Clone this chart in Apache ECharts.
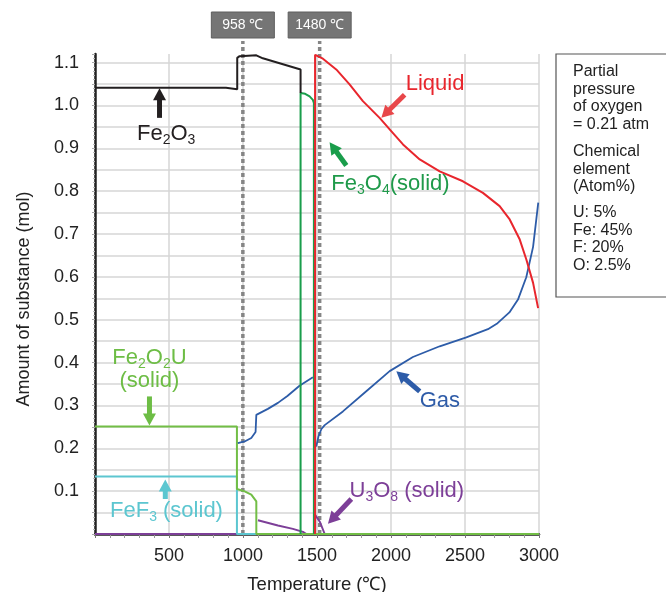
<!DOCTYPE html>
<html>
<head>
<meta charset="utf-8">
<title>Amount of substance vs temperature</title>
<script src="https://cdn.jsdelivr.net/npm/echarts@6/dist/echarts.min.js"></script>
<style>
  html, body { margin: 0; padding: 0; background: #fff; }
  #chart { width: 666px; height: 592px; }
</style>
</head>
<body>
<div id="chart"></div>
<script>
// values: [temperature (℃), amount (mol)], null breaks a line
var fe2o3 = [[0, 1.041], [885, 1.041], [887, 1.038], [961, 1.038], [961, 1.111], [977, 1.115],
  [1090, 1.117], [1134, 1.110], [1389, 1.084], [1389, 1.029]];
var fe3o4 = [[1389, 0], [1389, 1.029], [1420, 1.027], [1450, 1.021], [1472, 1.013], [1479, 1.006], [1479, 0]];
var liquid = [[1487, 0], [1487, 1.118], [1540, 1.109], [1630, 1.084], [1720, 1.049], [1810, 1.010],
  [1923, 0.971], [1991, 0.944], [2081, 0.909], [2194, 0.874], [2329, 0.846], [2486, 0.823],
  [2621, 0.796], [2734, 0.765], [2802, 0.734], [2870, 0.687], [2915, 0.640], [2960, 0.586], [2994, 0.527]];
var gas = [[965, 0.212], [1011, 0.216], [1056, 0.224], [1085, 0.238], [1090, 0.278], [1168, 0.292],
  [1236, 0.306], [1300, 0.322], [1382, 0.346], [1472, 0.366], null,
  [1495, 0.204], [1510, 0.228], [1530, 0.245], [1552, 0.254], [1675, 0.286], [1833, 0.333],
  [1991, 0.380], [2148, 0.413], [2329, 0.438], [2509, 0.459], [2655, 0.478], [2720, 0.492],
  [2800, 0.517], [2858, 0.547], [2914, 0.599], [2960, 0.670], [2995, 0.773]];
var fe2o2u = [[0, 0.251], [959, 0.251], [959, 0.105], [1011, 0.0995], [1056, 0.092], [1090, 0.076],
  [1090, 0], [3000, 0]];
var fef3 = [[0, 0.134], [959, 0.134], [959, 0], [1090, 0]];
var u3o8 = [[0, 0], [959, 0], null,
  [1101, 0.032], [1236, 0.020], [1337, 0.012], [1405, 0.005], [1428, 0], null,
  [1487, 0], [1487, 0.045], [1520, 0.028], [1552, 0]];

// dotted markers: label text and where the picture draws them on the axis
var markerText = ['958 ℃', '1480 ℃'];
var markerAt = [999, 1518];

var conditions = [
  ['Partial', 'pressure', 'of oxygen', '= 0.21 atm'],
  ['Chemical', 'element', '(Atom%)'],
  ['U: 5%', 'Fe: 45%', 'F: 20%', 'O: 2.5%']
];

var FONT = '"Liberation Sans", Arial, sans-serif';
var chart = echarts.init(document.getElementById('chart'));

function lineSeries(name, data, color, width, z) {
  return {
    name: name, type: 'line', data: data, symbol: 'none', connectNulls: false,
    lineStyle: { color: color, width: width }, z: z
  };
}

var option = {
  animation: false,
  textStyle: { fontFamily: FONT },
  grid: { left: 95, right: 127, top: 54, bottom: 58, outerBoundsMode: 'none' },
  xAxis: {
    type: 'value', min: 0, max: 3000, interval: 500,
    name: 'Temperature (℃)', nameLocation: 'middle', nameGap: 41,
    nameTextStyle: { fontSize: 18.5, color: '#222' },
    axisLine: { lineStyle: { color: '#222', width: 2.5 } },
    axisTick: { length: 4, lineStyle: { color: '#777' } },
    minorTick: { show: true, splitNumber: 5, length: 4, lineStyle: { color: '#999' } },
    axisLabel: { fontSize: 18, color: '#222', margin: 13, showMinLabel: false,
      formatter: function (v) { return String(v); } },
    splitLine: { show: true, lineStyle: { color: '#d6d6d6', width: 1.5 } }
  },
  yAxis: {
    type: 'value', min: 0, max: 1.12, interval: 0.05,
    name: 'Amount of substance (mol)', nameLocation: 'middle', nameGap: 62,
    nameTextStyle: { fontSize: 18, color: '#222', padding: [0, 10, 0, 0] },
    axisLine: { show: true, lineStyle: { color: '#222', width: 2.5 } },
    axisTick: { show: true, length: 3, lineStyle: { color: '#aaa' } },
    minorTick: { show: true, splitNumber: 5, length: 2, lineStyle: { color: '#bbb' } },
    axisLabel: {
      fontSize: 18, color: '#222', margin: 16,
      formatter: function (v) {
        var k = Math.round(v * 100);
        return (k > 0 && k % 10 === 0) ? v.toFixed(1) : '';
      }
    },
    splitLine: { show: true, showMaxLine: false, lineStyle: { color: '#d6d6d6', width: 1.5 } }
  },
  series: [
    lineSeries('U3O8', u3o8, '#7d3f98', 2, 3),
    lineSeries('FeF3', fef3, '#5cc6d0', 2, 4),
    lineSeries('Fe2O2U', fe2o2u, '#72be46', 2, 5),
    lineSeries('Gas', gas, '#2d5ca8', 1.8, 6),
    lineSeries('Fe3O4', fe3o4, '#1a9d4b', 2, 7),
    lineSeries('Fe2O3', fe2o3, '#231f20', 2, 8),
    lineSeries('Liquid', liquid, '#e8262d', 2, 9)
  ]
};
chart.setOption(option);

// annotations, anchored in data units
var labels = [
  { at: [481, 0.934], align: 'center', color: '#231f20', text: '{m|Fe}{s|2}{m|O}{s|3}' },
  { at: [2099, 1.050], align: 'left', color: '#e8262d', text: '{m|Liquid}' },
  { at: [1597, 0.8175], align: 'left', color: '#1f9a4a', text: '{m|Fe}{s|3}{m|O}{s|4}{m|(solid)}' },
  { at: [368, 0.3846], align: 'center', color: '#6dbd45', text: '{m|Fe}{s|2}{m|O}{s|2}{m|U}\n{m|(solid)}' },
  { at: [483, 0.0544], align: 'center', color: '#5cc6d0', text: '{m|FeF}{s|3}{m| (solid)}' },
  { at: [2194, 0.311], align: 'left', color: '#2f5ca8', text: '{m|Gas}' },
  { at: [1720, 0.101], align: 'left', color: '#7d3f98', text: '{m|U}{s|3}{m|O}{s|8}{m| (solid)}' }
];
var arrows = [
  { from: [436, 0.971], to: [436, 1.040], color: '#231f20' },
  { from: [2092, 1.025], to: [1935, 0.971], color: '#e8474a' },
  { from: [1698, 0.860], to: [1585, 0.914], color: '#1a9d4b' },
  { from: [368, 0.321], to: [368, 0.253], color: '#6dbd45' },
  { from: [475, 0.0817], to: [475, 0.127], color: '#5cc6d0' },
  { from: [2194, 0.333], to: [2036, 0.3795], color: '#2d5ca8' },
  { from: [1732, 0.0817], to: [1574, 0.024], color: '#7d3f98' }
];

function px(p) { return chart.convertToPixel({ gridIndex: 0 }, p); }

function arrowEls(a0, b0, color) {
  var a = px(a0), b = px(b0);
  var dx = b[0] - a[0], dy = b[1] - a[1], len = Math.sqrt(dx * dx + dy * dy);
  var ux = dx / len, uy = dy / len, nx = -uy, ny = ux;
  var hl = 12, hw = 6.5;
  var bx = b[0] - ux * hl, by = b[1] - uy * hl;
  return [
    { type: 'line', z: 20, shape: { x1: a[0], y1: a[1], x2: bx + ux, y2: by + uy },
      style: { stroke: color, lineWidth: 5 } },
    { type: 'polygon', z: 20, shape: { points: [[b[0], b[1]], [bx + nx * hw, by + ny * hw], [bx - nx * hw, by - ny * hw]] },
      style: { fill: color } }
  ];
}

var els = [];
labels.forEach(function (l) {
  var p = px(l.at);
  els.push({
    type: 'text', z: 20, x: p[0], y: p[1],
    style: {
      text: l.text, align: l.align, verticalAlign: 'middle', fontFamily: FONT,
      rich: {
        m: { fontSize: 22, lineHeight: 23, fill: l.color, fontFamily: FONT, align: l.align },
        s: { fontSize: 14, lineHeight: 20, padding: [12, 0, 0, 0], fill: l.color, fontFamily: FONT }
      }
    }
  });
});
arrows.forEach(function (a) { els = els.concat(arrowEls(a.from, a.to, a.color)); });

// dotted temperature markers with boxed labels
var base = px([0, 0])[1];
markerAt.forEach(function (t, i) {
  var x = px([t, 0])[0];
  els.push({ type: 'line', z: 1, shape: { x1: x, y1: base, x2: x, y2: 41 },
    style: { stroke: '#858585', lineWidth: 3.5, lineDash: [4, 3] } });
  els.push({ type: 'rect', z: 1, shape: { x: x - 31.5, y: 12, width: 63, height: 26 },
    style: { fill: '#757575', stroke: '#5f5f5f', lineWidth: 1 } });
  els.push({ type: 'text', z: 2, x: x, y: 25,
    style: { text: markerText[i], align: 'center', verticalAlign: 'middle', fontSize: 14, fill: '#fff', fontFamily: FONT } });
});

// conditions box on the right
els.push({ type: 'rect', z: 1, shape: { x: 556, y: 54, width: 130, height: 243 },
  style: { fill: '#fff', stroke: '#555', lineWidth: 1.2 } });
var blockTop = [63, 143, 204];
conditions.forEach(function (lines, i) {
  els.push({ type: 'text', z: 2, x: 573, y: blockTop[i],
    style: { text: lines.join('\n'), fontSize: 16, lineHeight: 17.5, fill: '#222', fontFamily: FONT } });
});

chart.setOption({ graphic: { elements: els } });
</script>
</body>
</html>
